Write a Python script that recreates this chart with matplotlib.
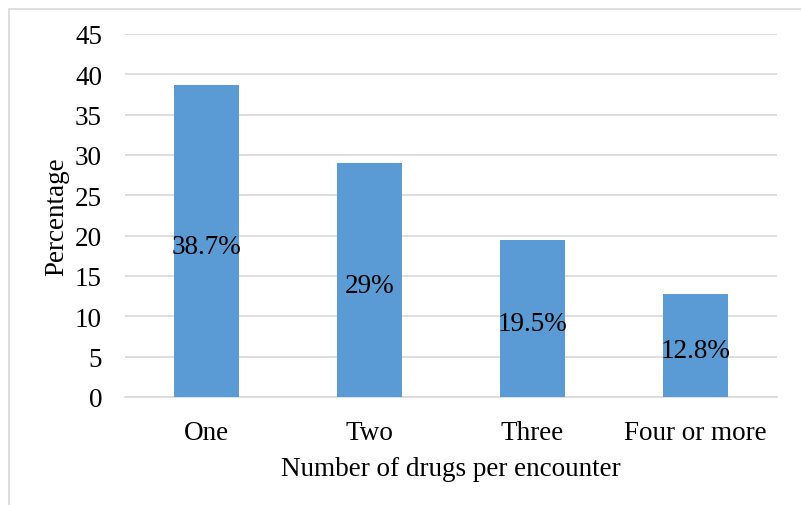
import matplotlib.pyplot as plt
from matplotlib.patches import Rectangle

categories = ["One", "Two", "Three", "Four or more"]
values = [38.7, 29.0, 19.5, 12.8]
value_labels = ["38.7%", "29%", "19.5%", "12.8%"]
yticks = [0, 5, 10, 15, 20, 25, 30, 35, 40, 45]

plt.rcParams['font.family'] = ['Liberation Serif', 'DejaVu Serif']

W, H = 801, 506
fig = plt.figure(figsize=(W / 100, H / 100), dpi=100)

# chart frame (left and top edges visible)
fig.add_artist(Rectangle((9 / W, -0.05), 1.2, (H - 10) / H + 0.05, transform=fig.transFigure,
                         fill=False, edgecolor='#d9d9d9', linewidth=1.2))

left, right = 125 / W, 777 / W
bottom, top = 1 - 398 / H, 1 - 35 / H
ax = fig.add_axes([left, bottom, right - left, top - bottom])

FS = 19.5
x = range(len(categories))
bars = ax.bar(x, values, width=0.4, color='#5b9bd5', zorder=3)
for rect, lab, v in zip(bars, value_labels, values):
    ax.annotate(lab, (rect.get_x() + rect.get_width() / 2, v / 2),
                xytext=(0, -4), textcoords='offset points',
                ha='center', va='center', fontsize=FS, color='black', zorder=4)

ax.set_xlim(-0.5, len(categories) - 0.5)
ax.set_ylim(0, 45)
ax.set_yticks(yticks)
ax.set_xticks(list(x))
ax.set_xticklabels(categories)
ax.yaxis.grid(True, color='#d9d9d9', linewidth=1.2, zorder=0)
ax.set_axisbelow(True)
for s in ['top', 'right', 'left']:
    ax.spines[s].set_visible(False)
ax.spines['bottom'].set_color('#d9d9d9')
ax.spines['bottom'].set_linewidth(1.2)
ax.tick_params(axis='both', length=0, labelsize=FS)
ax.tick_params(axis='y', pad=16.5)
ax.tick_params(axis='x', pad=16.5)

ax.set_xlabel("Number of drugs per encounter", fontsize=FS, labelpad=8)
ax.set_ylabel("Percentage", fontsize=FS, labelpad=4)

fig.savefig("out.png", dpi=100)
